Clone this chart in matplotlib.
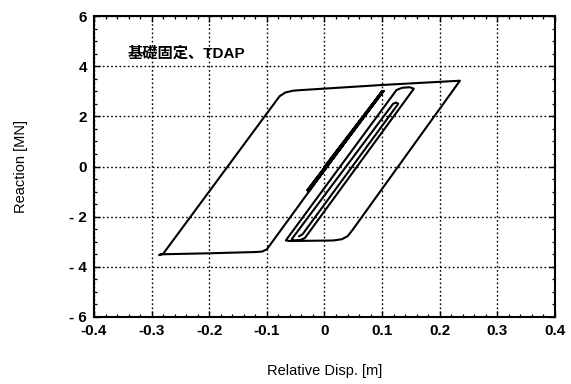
import matplotlib
matplotlib.use("Agg")
import matplotlib.pyplot as plt
from matplotlib.ticker import MultipleLocator, FixedLocator, FixedFormatter

# Hysteresis curve vertices (relative displacement [m], reaction [MN])
disp = [0.000, 0.100, -0.030, 0.103, -0.028, 0.101, -0.025, 0.100,
        -0.100, -0.108, -0.120, -0.200, -0.283, -0.287,
        -0.280, -0.078, -0.068, -0.055, -0.045,
        0.100, 0.235,
        0.048, 0.040, 0.030, 0.015,
        -0.060, -0.067, -0.065,
        0.125, 0.135, 0.148, 0.155,
        -0.034, -0.042, -0.052, -0.057,
        0.119, 0.124, 0.128,
        -0.038, -0.044]
reaction = [0.00, 3.00, -0.95, 3.02, -1.00, 2.98, -0.90, 3.00,
            -3.30, -3.39, -3.41, -3.46, -3.50, -3.53,
            -3.48, 2.80, 2.95, 3.02, 3.04,
            3.25, 3.42,
            -2.55, -2.78, -2.90, -2.95,
            -2.97, -2.95, -2.88,
            3.05, 3.14, 3.16, 3.10,
            -2.85, -2.93, -2.95, -2.90,
            2.50, 2.55, 2.50,
            -2.70, -2.78]

x_ticks = [-0.4, -0.3, -0.2, -0.1, 0.0, 0.1, 0.2, 0.3, 0.4]
x_labels = ['-0.4', '-0.3', '-0.2', '-0.1', '0', '0.1', '0.2', '0.3', '0.4']
y_ticks = [-6, -4, -2, 0, 2, 4, 6]
y_labels = ['- 6', '- 4', '- 2', '0', '2', '4', '6']

fig = plt.figure(figsize=(5.71, 3.84), dpi=100)
ax = fig.add_axes([94 / 571, 1 - 317 / 384, (555 - 94) / 571, (317 - 16) / 384])

ax.plot(disp, reaction, color='black', lw=1.5, solid_joinstyle='round')

ax.set_xlim(-0.4, 0.4)
ax.set_ylim(-6, 6)
ax.xaxis.set_major_locator(FixedLocator(x_ticks))
ax.xaxis.set_major_formatter(FixedFormatter(x_labels))
ax.yaxis.set_major_locator(FixedLocator(y_ticks))
ax.yaxis.set_major_formatter(FixedFormatter(y_labels))
ax.xaxis.set_minor_locator(MultipleLocator(0.02))
ax.yaxis.set_minor_locator(MultipleLocator(0.5))

ax.grid(True, which='major', color='black', linestyle=(0, (1.2, 1.8)), lw=1.0)
ax.tick_params(which='both', direction='in', top=True, right=True, colors='black')
ax.tick_params(which='major', length=4, width=1.0, labelsize=11, pad=5)
ax.tick_params(which='minor', length=2.2, width=0.9)
for lab in ax.get_xticklabels() + ax.get_yticklabels():
    lab.set_fontweight('bold')
    lab.set_family('Liberation Sans')
for s in ax.spines.values():
    s.set_linewidth(1.5)

ax.set_xlabel('Relative Disp. [m]', fontsize=10.5, family='Liberation Sans', labelpad=19)
ax.set_ylabel('Reaction [MN]', fontsize=10.5, family='Liberation Sans', labelpad=30)

ax.text(-0.342, 4.5, '基礎固定、TDAP', fontsize=11, fontweight='bold',
        family=['Liberation Sans', 'Noto Sans CJK JP'], ha='left', va='center')

fig.savefig('out.png', dpi=100)
